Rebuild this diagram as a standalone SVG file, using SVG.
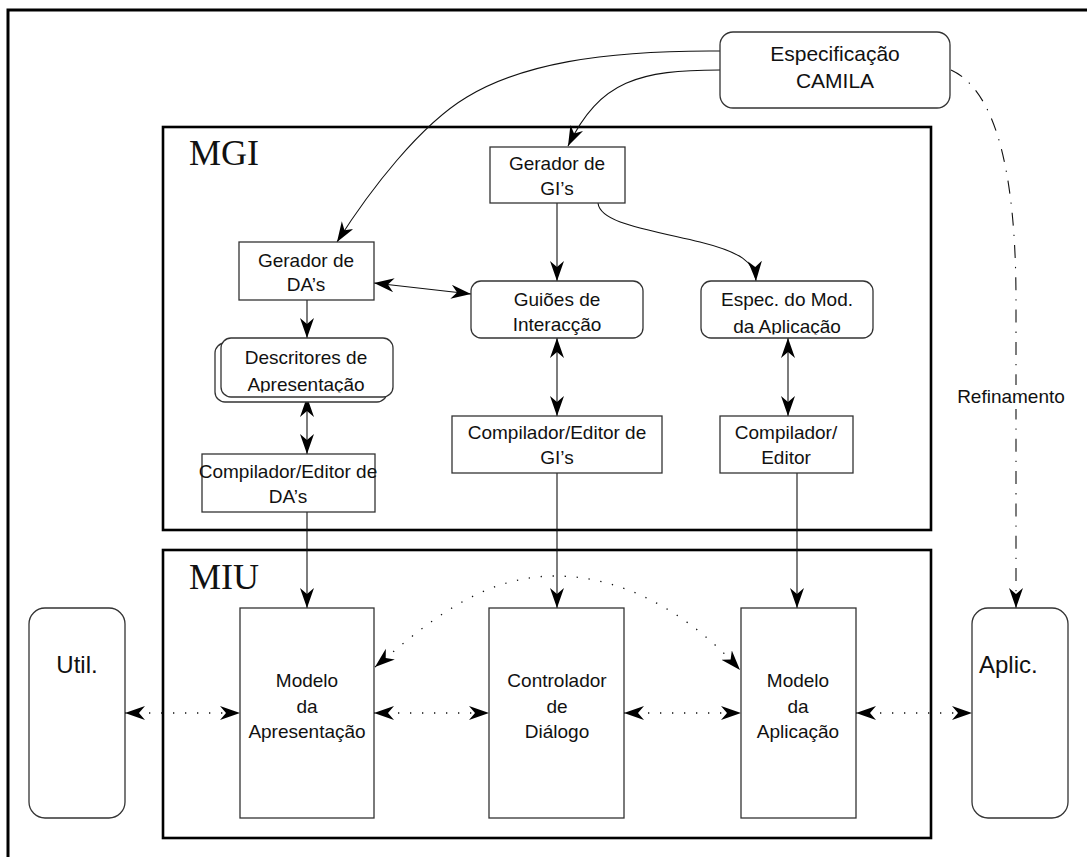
<svg xmlns="http://www.w3.org/2000/svg" width="1087" height="857" viewBox="0 0 1087 857">
  <style>
    .box { fill: #fff; stroke: #333; stroke-width: 1.3; }
    .frame { fill: none; stroke: #000; stroke-width: 2.6; }
    .lbl { font-family: "Liberation Sans", Arial, sans-serif; font-size: 19px; fill: #111; text-anchor: middle; }
    .big { font-family: "Liberation Serif", "Times New Roman", serif; font-size: 36px; fill: #111; }
    .conn { fill: none; stroke: #111; stroke-width: 1.1; }
    .dot { fill: none; stroke: #111; stroke-width: 1.3; stroke-dasharray: 1.3 10.7; }
    .dashdot { fill: none; stroke: #111; stroke-width: 1.1; stroke-dasharray: 13 9 1.3 9; }
    .arr { marker-end: url(#head); }
    .both { marker-start: url(#head); marker-end: url(#head); }
  </style>
  <defs>
    <marker id="head" markerUnits="userSpaceOnUse" markerWidth="22" markerHeight="16" refX="20" refY="7" orient="auto-start-reverse" viewBox="0 0 22 16">
      <path d="M0,0 L20,7 L0,14 L6,7 z" fill="#000"/>
    </marker>
    <clipPath id="clipDesc"><rect x="215" y="330" width="180" height="62.5"/></clipPath>
    <clipPath id="clipEspec"><rect x="700" y="275" width="175" height="59.5"/></clipPath>
  </defs>

  <rect width="1087" height="857" fill="#fff"/>

  <!-- outer frame (runs past the right and bottom edges) -->
  <rect x="8" y="10" width="1200" height="1000" fill="none" stroke="#000" stroke-width="3"/>

  <!-- containers -->
  <g id="mgi">
    <rect class="frame" x="163" y="127" width="768" height="403"/>
    <text class="big" x="189" y="165">MGI</text>
  </g>
  <g id="miu">
    <rect class="frame" x="163" y="550" width="768" height="288"/>
    <text class="big" x="189" y="589">MIU</text>
  </g>

  <!-- connectors -->
  <g id="connectors">
    <path class="conn arr" d="M720,51 C600,50 520,65 467,97 C420,125 370,190 337,242"/>
    <path class="conn arr" d="M720,70 C640,70 600,80 568,146"/>
    <path class="conn arr" d="M598,203 C600,222 640,228 700,242 C740,252 755,262 756,281"/>
    <line class="conn arr" x1="557" y1="203" x2="557" y2="281"/>
    <line class="conn both" x1="374" y1="283" x2="471" y2="294"/>
    <line class="conn arr" x1="307" y1="300" x2="307" y2="338"/>
    <line class="conn both" x1="307" y1="397" x2="307" y2="454"/>
    <line class="conn both" x1="557" y1="338" x2="557" y2="416"/>
    <line class="conn both" x1="788" y1="338" x2="788" y2="416"/>
    <line class="conn arr" x1="307" y1="512" x2="307" y2="608"/>
    <line class="conn arr" x1="557" y1="473" x2="557" y2="608"/>
    <line class="conn arr" x1="797" y1="473" x2="797" y2="608"/>
    <path class="dot both" d="M375,667 C425,625 480,576 555,576 C630,576 695,620 740,670"/>
    <line class="dot both" x1="125" y1="713" x2="240" y2="713"/>
    <line class="dot both" x1="374" y1="713" x2="489" y2="713"/>
    <line class="dot both" x1="624" y1="713" x2="741" y2="713"/>
    <line class="dot both" x1="856" y1="713" x2="972" y2="713"/>
    <path class="dashdot arr" d="M951,70 C995,90 1016,170 1016,300 L1016,608"/>
    <rect x="960" y="385" width="104" height="24" fill="#fff"/>
    <text class="lbl" x="1011" y="403">Refinamento</text>
  </g>

  <!-- nodes -->
  <g id="especificacao">
    <rect class="box" x="720" y="32" width="230" height="76" rx="13"/>
    <text class="lbl" x="835" y="61" style="font-size:21px">Especificação</text>
    <text class="lbl" x="835" y="88" style="font-size:21px">CAMILA</text>
  </g>

  <g id="gerador-gi">
    <rect class="box" x="490" y="147" width="135" height="56"/>
    <text class="lbl" x="557" y="170">Gerador de</text>
    <text class="lbl" x="557" y="195">GI’s</text>
  </g>

  <g id="gerador-da">
    <rect class="box" x="239" y="242" width="135" height="58"/>
    <text class="lbl" x="306" y="267">Gerador de</text>
    <text class="lbl" x="306" y="291">DA’s</text>
  </g>

  <g id="guioes">
    <rect class="box" x="471" y="281" width="172" height="57" rx="10"/>
    <text class="lbl" x="557" y="306">Guiões de</text>
    <text class="lbl" x="557" y="331">Interacção</text>
  </g>

  <g id="espec-modelo">
    <rect class="box" x="701" y="281" width="172" height="57" rx="10"/>
    <text class="lbl" x="787" y="306">Espec. do Mod.</text>
    <text class="lbl" x="787" y="333" clip-path="url(#clipEspec)">da Aplicação</text>
  </g>

  <g id="descritores">
    <rect class="box" x="215" y="343" width="172" height="59" rx="10"/>
    <rect class="box" x="221" y="338" width="172" height="59" rx="10"/>
    <text class="lbl" x="306" y="364">Descritores de</text>
    <text class="lbl" x="306" y="391" clip-path="url(#clipDesc)">Apresentação</text>
  </g>

  <g id="compilador-da">
    <rect class="box" x="202" y="454" width="173" height="58"/>
    <text class="lbl" x="288" y="478">Compilador/Editor de</text>
    <text class="lbl" x="288" y="503">DA’s</text>
  </g>

  <g id="compilador-gi">
    <rect class="box" x="452" y="416" width="210" height="57"/>
    <text class="lbl" x="557" y="439">Compilador/Editor de</text>
    <text class="lbl" x="557" y="464">GI’s</text>
  </g>

  <g id="compilador-editor">
    <rect class="box" x="720" y="416" width="133" height="57"/>
    <text class="lbl" x="786" y="439">Compilador/</text>
    <text class="lbl" x="786" y="464">Editor</text>
  </g>

  <g id="util">
    <rect class="box" x="29" y="608" width="96" height="210" rx="16"/>
    <text class="lbl" x="77" y="673" style="font-size:24px">Util.</text>
  </g>

  <g id="modelo-apresentacao">
    <rect class="box" x="240" y="608" width="134" height="210"/>
    <text class="lbl" x="307" y="687">Modelo</text>
    <text class="lbl" x="307" y="713">da</text>
    <text class="lbl" x="307" y="738">Apresentação</text>
  </g>

  <g id="controlador">
    <rect class="box" x="489" y="608" width="135" height="210"/>
    <text class="lbl" x="557" y="687">Controlador</text>
    <text class="lbl" x="557" y="713">de</text>
    <text class="lbl" x="557" y="738">Diálogo</text>
  </g>

  <g id="modelo-aplicacao">
    <rect class="box" x="741" y="608" width="115" height="210"/>
    <text class="lbl" x="798" y="687">Modelo</text>
    <text class="lbl" x="798" y="713">da</text>
    <text class="lbl" x="798" y="738">Aplicação</text>
  </g>

  <g id="aplic">
    <rect class="box" x="972" y="608" width="96" height="210" rx="16"/>
    <text class="lbl" x="979" y="673" style="font-size:24px;text-anchor:start">Aplic.</text>
  </g>
</svg>
